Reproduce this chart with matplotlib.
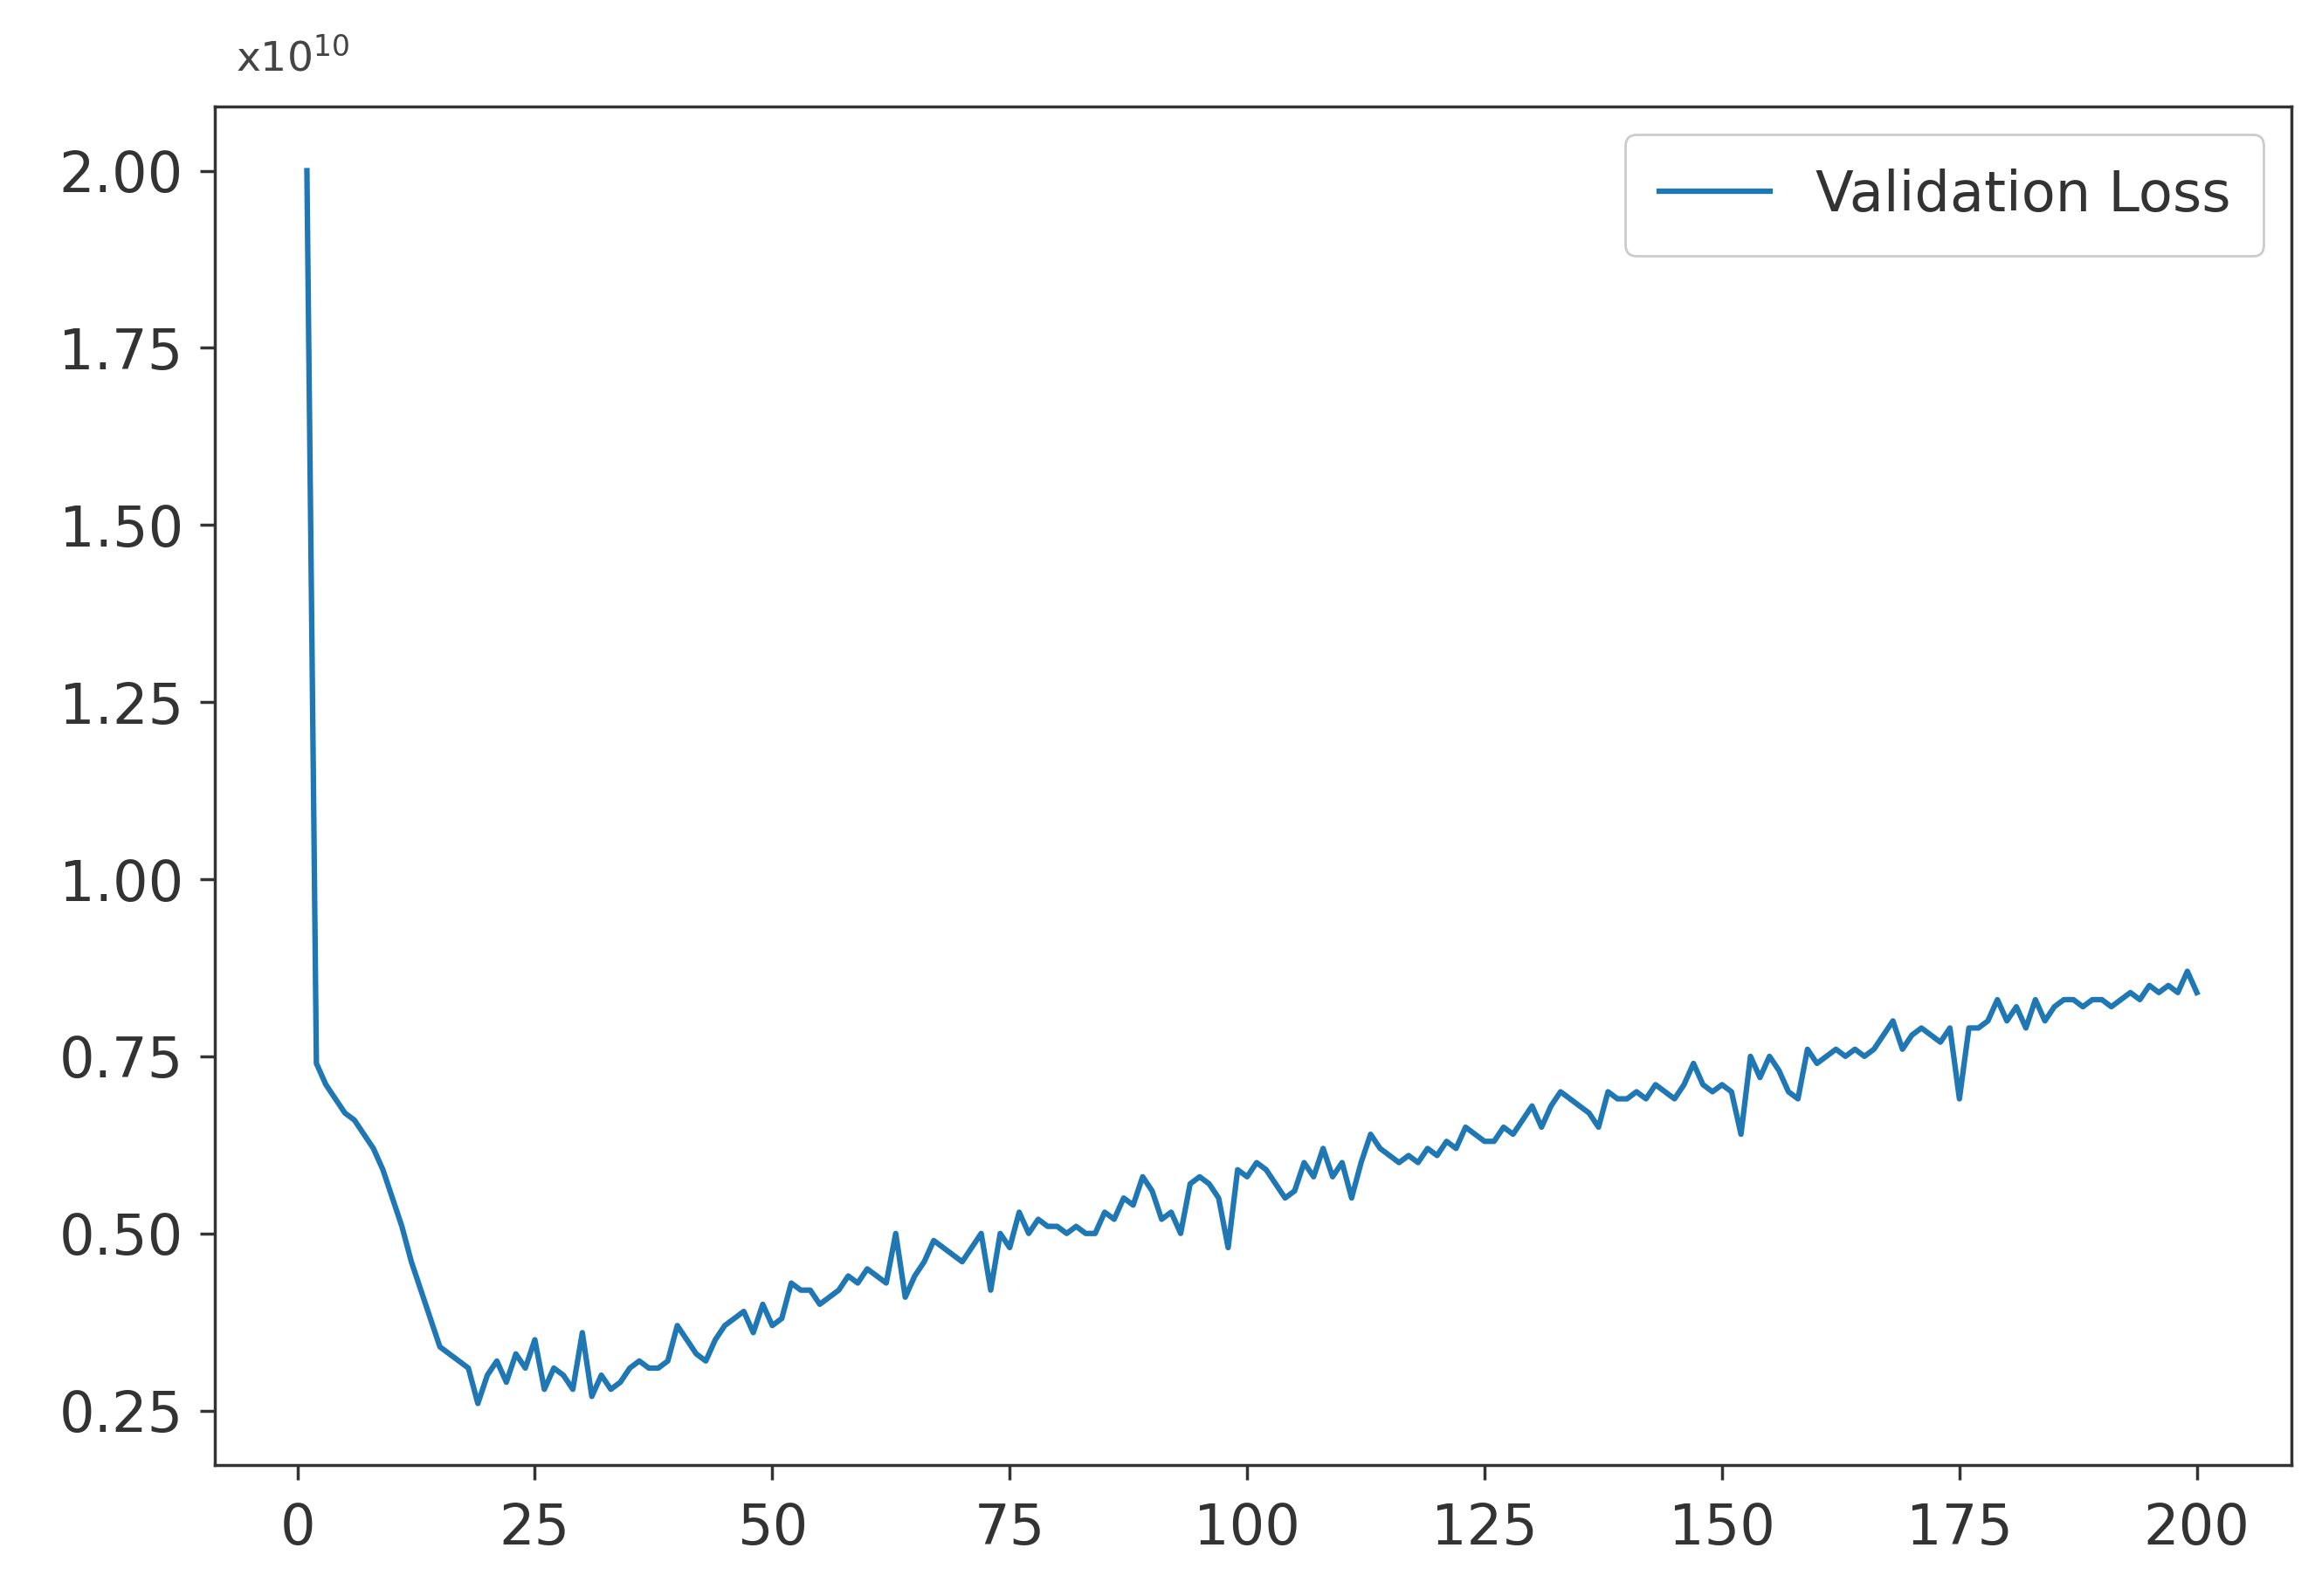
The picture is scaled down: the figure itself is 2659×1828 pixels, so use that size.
import numpy as np
import matplotlib
matplotlib.use('Agg')
import matplotlib.pyplot as plt

# validation loss per epoch, in units of 1e10
epochs = list(range(1, 201))
val_loss = [
    2.00, 0.74, 0.71, 0.69, 0.67, 0.66, 0.64, 0.62, 0.59, 0.55, 0.51, 0.46, 0.42, 0.38, 0.34, 0.33, 0.32, 0.31, 0.26, 0.30,
    0.32, 0.29, 0.33, 0.31, 0.35, 0.28, 0.31, 0.30, 0.28, 0.36, 0.27, 0.30, 0.28, 0.29, 0.31, 0.32, 0.31, 0.31, 0.32, 0.37,
    0.35, 0.33, 0.32, 0.35, 0.37, 0.38, 0.39, 0.36, 0.40, 0.37, 0.38, 0.43, 0.42, 0.42, 0.40, 0.41, 0.42, 0.44, 0.43, 0.45,
    0.44, 0.43, 0.50, 0.41, 0.44, 0.46, 0.49, 0.48, 0.47, 0.46, 0.48, 0.50, 0.42, 0.50, 0.48, 0.53, 0.50, 0.52, 0.51, 0.51,
    0.50, 0.51, 0.50, 0.50, 0.53, 0.52, 0.55, 0.54, 0.58, 0.56, 0.52, 0.53, 0.50, 0.57, 0.58, 0.57, 0.55, 0.48, 0.59, 0.58,
    0.60, 0.59, 0.57, 0.55, 0.56, 0.60, 0.58, 0.62, 0.58, 0.60, 0.55, 0.60, 0.64, 0.62, 0.61, 0.60, 0.61, 0.60, 0.62, 0.61,
    0.63, 0.62, 0.65, 0.64, 0.63, 0.63, 0.65, 0.64, 0.66, 0.68, 0.65, 0.68, 0.70, 0.69, 0.68, 0.67, 0.65, 0.70, 0.69, 0.69,
    0.70, 0.69, 0.71, 0.70, 0.69, 0.71, 0.74, 0.71, 0.70, 0.71, 0.70, 0.64, 0.75, 0.72, 0.75, 0.73, 0.70, 0.69, 0.76, 0.74,
    0.75, 0.76, 0.75, 0.76, 0.75, 0.76, 0.78, 0.80, 0.76, 0.78, 0.79, 0.78, 0.77, 0.79, 0.69, 0.79, 0.79, 0.80, 0.83, 0.80,
    0.82, 0.79, 0.83, 0.80, 0.82, 0.83, 0.83, 0.82, 0.83, 0.83, 0.82, 0.83, 0.84, 0.83, 0.85, 0.84, 0.85, 0.84, 0.87, 0.84,
]
yticks = [0.25, 0.50, 0.75, 1.00, 1.25, 1.50, 1.75, 2.00]
xticks = [0, 25, 50, 75, 100, 125, 150, 175, 200]

fig = plt.figure(figsize=(26.59, 18.28), dpi=100)
ax = fig.add_axes([0.0925, 0.082, 0.8945, 0.851])
ax.plot(epochs, val_loss, color='#1f77b4', lw=4.5, label='Validation Loss')

ax.set_xlim(-8.7, 210)
ax.set_ylim(0.173, 2.09)
ax.set_xticks(xticks)
ax.set_yticks(yticks)
ax.set_yticklabels(['%.2f' % v for v in yticks])
ax.tick_params(labelsize=46, width=2.5, length=12, color='#333333', labelcolor='#333333')
ax.tick_params(axis='x', pad=18)
ax.tick_params(axis='y', pad=14)
for s in ax.spines.values():
    s.set_linewidth(2.5)
    s.set_color('#333333')

ax.text(0.01, 1.02, r'x10$^{10}$', transform=ax.transAxes, fontsize=34,
        color='#444444', va='bottom', ha='left')

leg = ax.legend(loc='upper right', fontsize=46, handlelength=2.0, borderpad=0.6,
                framealpha=1, edgecolor='#cccccc', fancybox=True)
leg.get_frame().set_linewidth(2)
for t in leg.get_texts():
    t.set_color('#333333')

fig.savefig('out.png', dpi=100)
